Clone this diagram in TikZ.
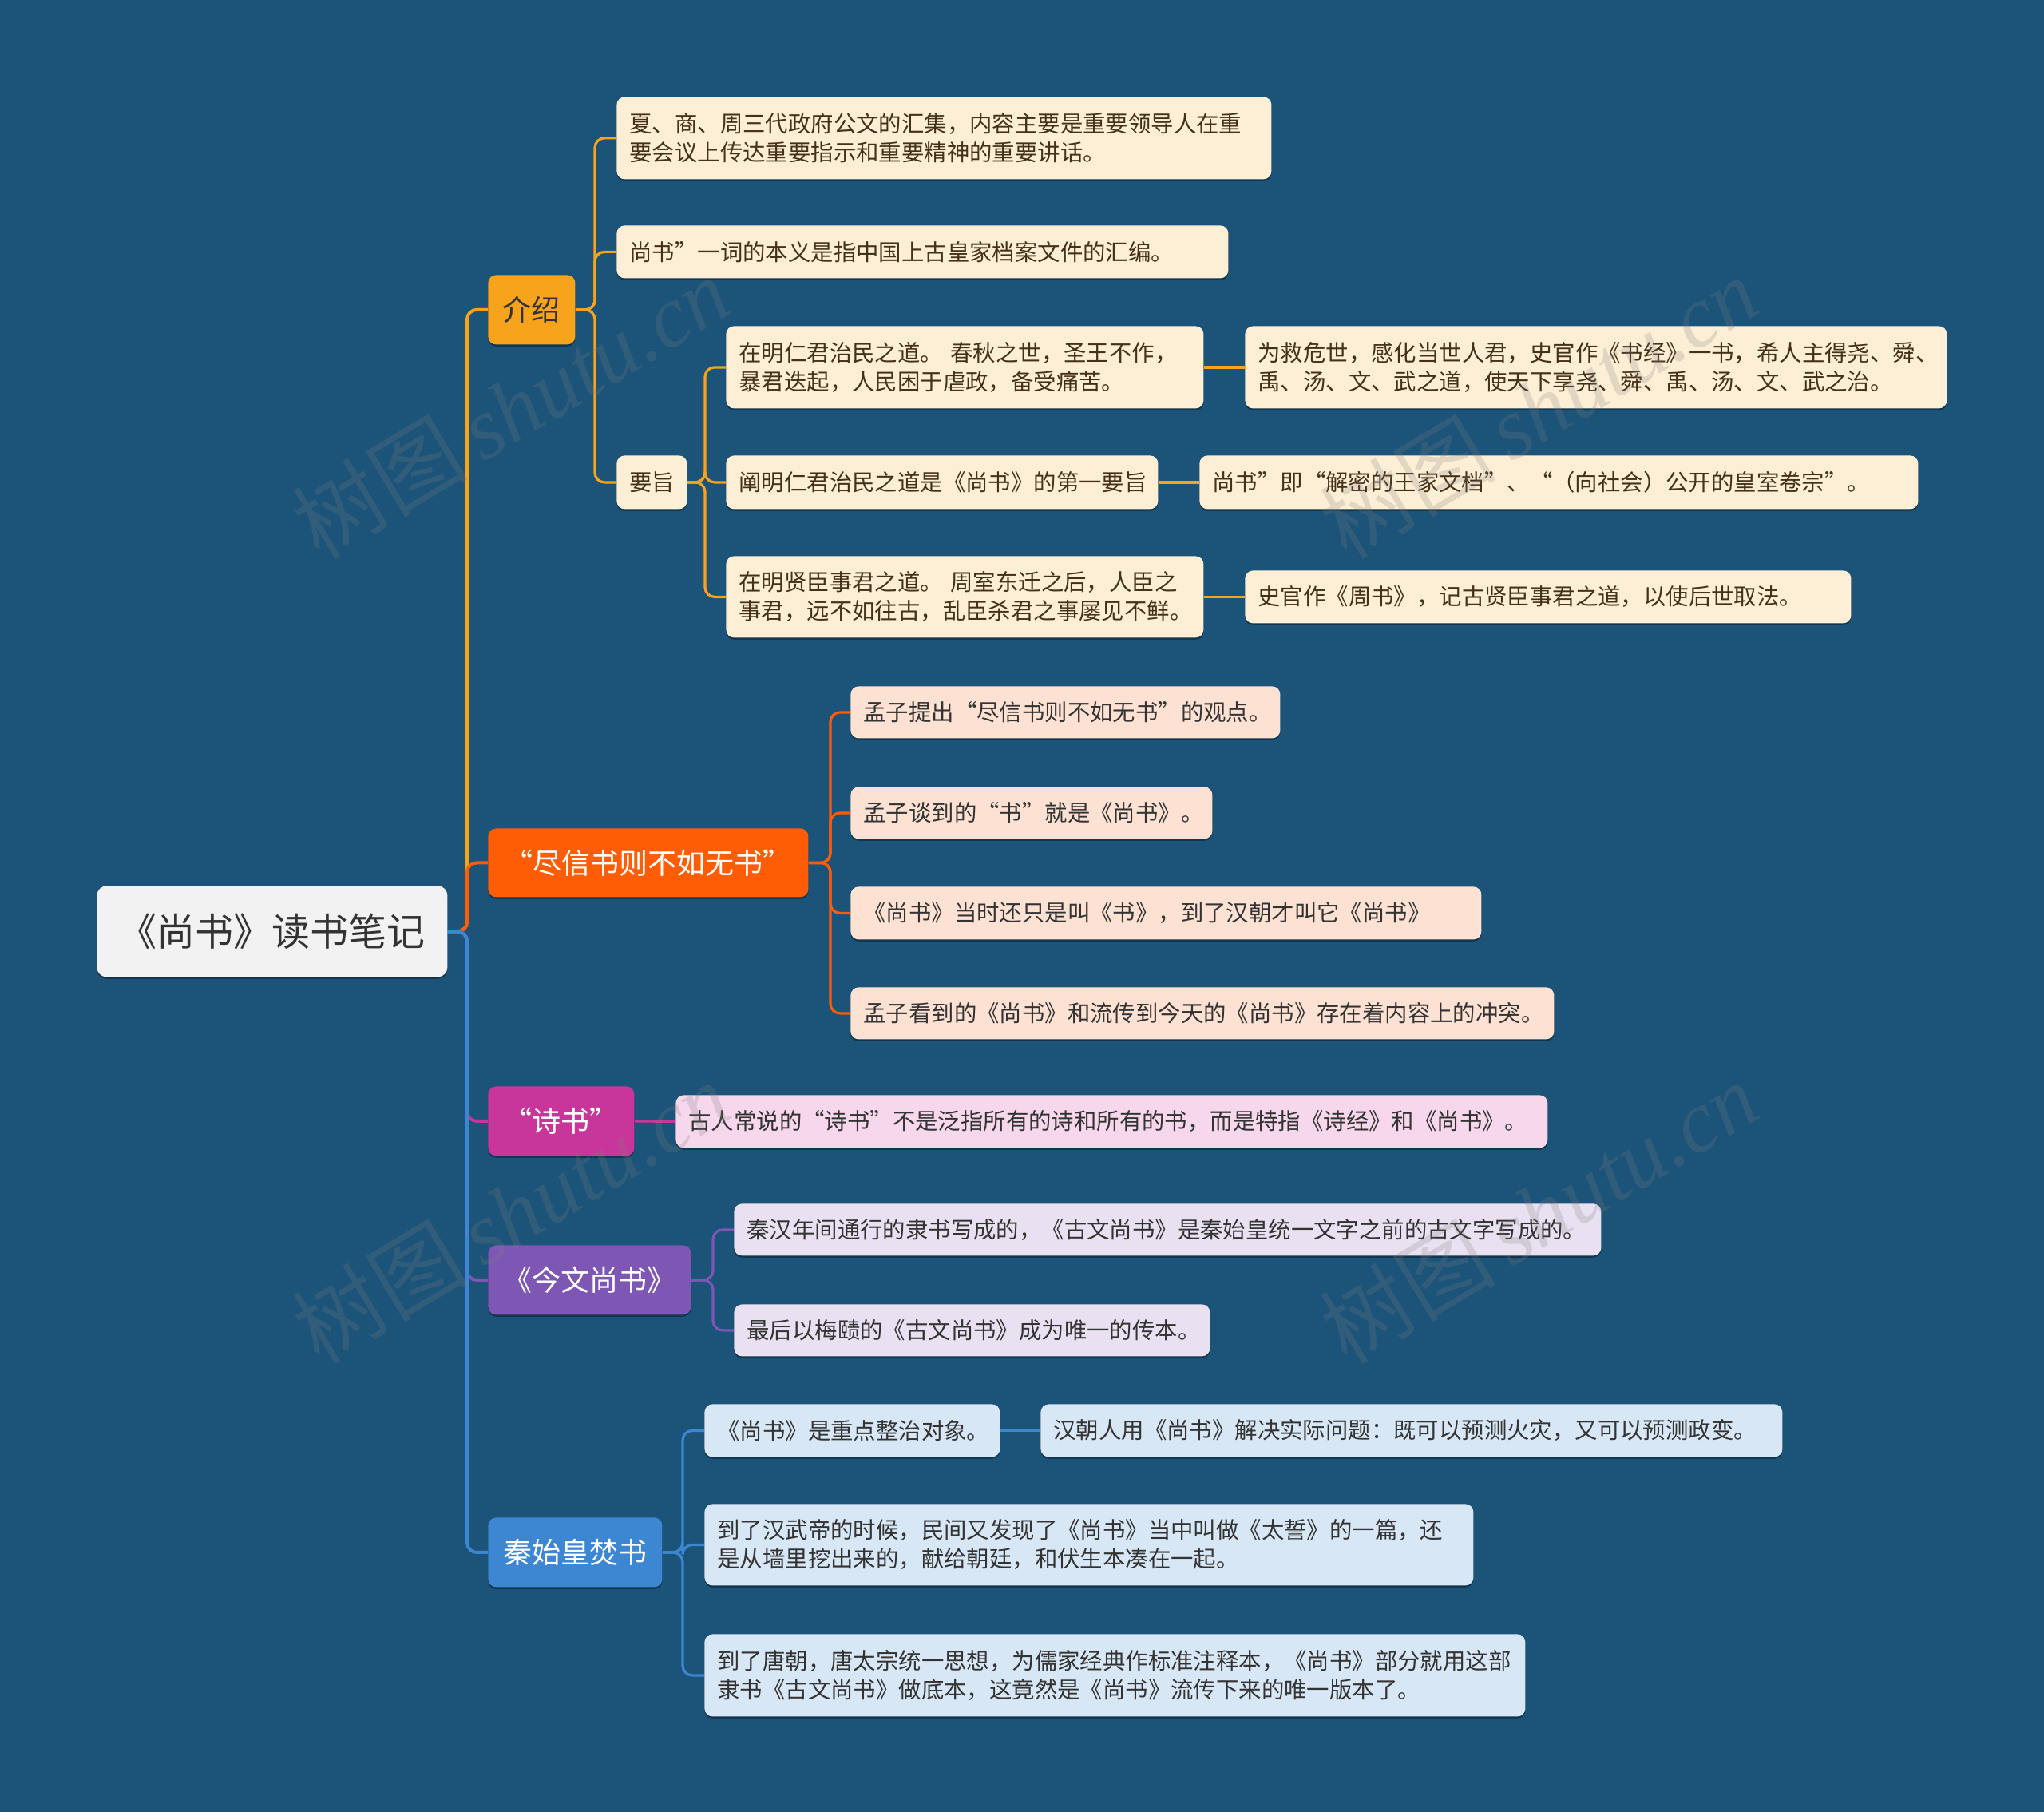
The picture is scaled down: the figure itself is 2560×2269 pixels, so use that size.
\documentclass[tikz,border=0pt]{standalone}
\usepackage{fontspec}
\setmainfont{Noto Sans CJK SC}
\newfontfamily\wmlatin{Liberation Serif}
\usetikzlibrary{backgrounds,shadows}
\definecolor{bg}{HTML}{1B5379}
\definecolor{cAmber}{HTML}{F7A31C}
\definecolor{cOrange}{HTML}{FE5C05}
\definecolor{cMagenta}{HTML}{C9369B}
\definecolor{cPurple}{HTML}{7E57B5}
\definecolor{cBlue}{HTML}{3D86D1}
\definecolor{rootfill}{HTML}{F2F2F2}
\definecolor{fCream}{HTML}{FDEFD5}
\definecolor{fPeach}{HTML}{FDE2D3}
\definecolor{fPink}{HTML}{F6D7EB}
\definecolor{fLav}{HTML}{E9E1F1}
\definecolor{fSky}{HTML}{D8E7F5}
\definecolor{txtBrown}{HTML}{45301A}
\definecolor{txtDark}{HTML}{333333}
\newcommand\mkleaf[7]{%
  \pgfmathsetmacro\mklw{(#4-#2)/2-16}%
  \pgfmathsetmacro\mklh{(#5-#3)/2}%
  \node[#6,anchor=north west,text width=\mklw pt,minimum height=\mklh pt] (#1) at (#2,#3) {#7};}
\newcommand\mktopic[7]{%
  \pgfmathsetmacro\mklw{(#4-#2)/2}%
  \pgfmathsetmacro\mklh{(#5-#3)/2}%
  \node[#6,anchor=north west,minimum width=\mklw pt,minimum height=\mklh pt] (#1) at (#2,#3) {#7};}
\tikzset{
  shade/.style={drop shadow={shadow xshift=0pt,shadow yshift=-1.2pt,opacity=0.35,fill=black}},
  leafbase/.style={shade,rounded corners=5pt,inner xsep=8pt,inner ysep=2pt,align=left,
    font=\fontsize{14.2}{18}\selectfont,text=txtDark},
  lcream/.style={leafbase,fill=fCream,text=txtBrown},
  lpeach/.style={leafbase,fill=fPeach},
  lpink/.style={leafbase,fill=fPink},
  llav/.style={leafbase,fill=fLav},
  lsky/.style={leafbase,fill=fSky},
  topicbase/.style={shade,rounded corners=5pt,inner sep=0pt,align=center,
    font=\fontsize{18}{22}\selectfont,text=white},
  rootstyle/.style={shade,rounded corners=6pt,inner sep=0pt,fill=rootfill,
    font=\fontsize{24}{28}\selectfont,text=txtDark},
  main/.style={line width=2pt,rounded corners=6pt},
  sub/.style={line width=1.6pt,rounded corners=6pt},
  wm/.style={font=\fontsize{55}{60}\selectfont,text=gray,opacity=0.22,inner sep=0pt}
}
\begin{document}
\begin{tikzpicture}[x=0.5pt,y=-0.5pt]
\useasboundingbox (0,0) rectangle (2560,2269);
\begin{pgfonlayer}{background}
  \fill[bg] (0,0) rectangle (2560,2269);
\end{pgfonlayer}

% root
\mktopic{root}{121}{1109}{560}{1223}{rootstyle}{《尚书》读书笔记}

% level 1
\mktopic{jieshao}{611}{344}{720}{431}{topicbase,fill=cAmber,text=txtDark}{介绍}
\mktopic{jinxin}{611}{1037}{1012}{1123}{topicbase,fill=cOrange}{“尽信书则不如无书”}
\mktopic{shishu}{611}{1360}{794}{1447}{topicbase,fill=cMagenta}{“诗书”}
\mktopic{jinwen}{611}{1559}{865}{1646}{topicbase,fill=cPurple}{《今文尚书》}
\mktopic{qin}{611}{1900}{829}{1987}{topicbase,fill=cBlue}{秦始皇焚书}

% 介绍 subtree
\mkleaf{A1}{772}{121}{1592}{224}{lcream}{夏、商、周三代政府公文的汇集，内容主要是重要领导人在重\\要会议上传达重要指示和重要精神的重要讲话。}
\mkleaf{A2}{772}{282}{1538}{348}{lcream}{尚书”一词的本义是指中国上古皇家档案文件的汇编。}
\mkleaf{A3}{772}{570}{860}{637}{lcream}{要旨}
\mkleaf{B1}{909}{408}{1507}{511}{lcream}{在明仁君治民之道。 春秋之世，圣王不作，\\暴君迭起，人民困于虐政，备受痛苦。}
\mkleaf{B2}{909}{570}{1450}{637}{lcream}{阐明仁君治民之道是《尚书》的第一要旨}
\mkleaf{B3}{909}{696}{1507}{798}{lcream}{在明贤臣事君之道。 周室东迁之后，人臣之\\事君，远不如往古，乱臣杀君之事屡见不鲜。}
\mkleaf{C1}{1559}{408}{2438}{511}{lcream}{为救危世，感化当世人君，史官作《书经》一书，希人主得尧、舜、\\禹、汤、文、武之道，使天下享尧、舜、禹、汤、文、武之治。}
\mkleaf{C2}{1502}{570}{2402}{637}{lcream}{尚书”即“解密的王家文档”、“（向社会）公开的皇室卷宗”。}
\mkleaf{C3}{1559}{714}{2318}{780}{lcream}{史官作《周书》，记古贤臣事君之道，以使后世取法。}

% 尽信 subtree
\mkleaf{D1}{1065}{859}{1603}{924}{lpeach}{孟子提出“尽信书则不如无书”的观点。}
\mkleaf{D2}{1065}{985}{1518}{1050}{lpeach}{孟子谈到的“书”就是《尚书》。}
\mkleaf{D3}{1065}{1110}{1855}{1176}{lpeach}{《尚书》当时还只是叫《书》，到了汉朝才叫它《尚书》}
\mkleaf{D4}{1065}{1236}{1946}{1301}{lpeach}{孟子看到的《尚书》和流传到今天的《尚书》存在着内容上的冲突。}

% 诗书
\mkleaf{E1}{846}{1371}{1938}{1437}{lpink}{古人常说的“诗书”不是泛指所有的诗和所有的书，而是特指《诗经》和《尚书》。}

% 今文尚书
\mkleaf{F1}{919}{1507}{2005}{1572}{llav}{秦汉年间通行的隶书写成的，《古文尚书》是秦始皇统一文字之前的古文字写成的。}
\mkleaf{F2}{919}{1633}{1515}{1698}{llav}{最后以梅赜的《古文尚书》成为唯一的传本。}

% 秦始皇焚书
\mkleaf{G1}{882}{1758}{1252}{1824}{lsky}{《尚书》是重点整治对象。}
\mkleaf{H1}{1303}{1758}{2232}{1824}{lsky}{汉朝人用《尚书》解决实际问题：既可以预测火灾，又可以预测政变。}
\mkleaf{G2}{882}{1883}{1845}{1985}{lsky}{到了汉武帝的时候，民间又发现了《尚书》当中叫做《太誓》的一篇，还\\是从墙里挖出来的，献给朝廷，和伏生本凑在一起。}
\mkleaf{G3}{882}{2046}{1910}{2149}{lsky}{到了唐朝，唐太宗统一思想，为儒家经典作标准注释本，《尚书》部分就用这部\\隶书《古文尚书》做底本，这竟然是《尚书》流传下来的唯一版本了。}

% trunk coordinates
\coordinate (t0) at (585,0);
\coordinate (t1) at (745,0);
\coordinate (t2) at (883,0);
\coordinate (t3) at (1040,0);
\coordinate (t5) at (893,0);
\coordinate (t6) at (855,0);

\begin{pgfonlayer}{background}
  % amber branch
  \draw[main,cAmber] (root.east) -- (root.east -| t0) |- (jieshao.west);
  \foreach \c in {A1,A2,A3}
    \draw[sub,cAmber] (jieshao.east) -- (jieshao.east -| t1) |- (\c.west);
  \foreach \c in {B1,B2,B3}
    \draw[sub,cAmber] (A3.east) -- (A3.east -| t2) |- (\c.west);
  \draw[sub,cAmber] (B1.east) -- (C1.west);
  \draw[sub,cAmber] (B2.east) -- (C2.west);
  \draw[sub,cAmber] (B3.east) -- (C3.west);
  % orange branch
  \draw[main,cOrange] (root.east) -- (root.east -| t0) |- (jinxin.west);
  \foreach \c in {D1,D2,D3,D4}
    \draw[sub,cOrange] (jinxin.east) -- (jinxin.east -| t3) |- (\c.west);
  % magenta branch
  \draw[main,cMagenta] (root.east) -- (root.east -| t0) |- (shishu.west);
  \draw[sub,cMagenta] (shishu.east) -- (E1.west);
  % purple branch
  \draw[main,cPurple] (root.east) -- (root.east -| t0) |- (jinwen.west);
  \foreach \c in {F1,F2}
    \draw[sub,cPurple] (jinwen.east) -- (jinwen.east -| t5) |- (\c.west);
  % blue branch
  \draw[main,cBlue] (root.east) -- (root.east -| t0) |- (qin.west);
  \foreach \c in {G1,G2,G3}
    \draw[sub,cBlue] (qin.east) -- (qin.east -| t6) |- (\c.west);
  \draw[sub,cBlue] (G1.east) -- (H1.west);
\end{pgfonlayer}

% watermarks
\node[wm,rotate=31] (wm1) at (640,510) {树图\,{\wmlatin\itshape shutu.cn}};
\node[wm,rotate=31] (wm2) at (1927,510) {树图\,{\wmlatin\itshape shutu.cn}};
\node[wm,rotate=31] (wm3) at (640,1518) {树图\,{\wmlatin\itshape shutu.cn}};
\node[wm,rotate=31] (wm4) at (1927,1518) {树图\,{\wmlatin\itshape shutu.cn}};
\end{tikzpicture}
\end{document}
